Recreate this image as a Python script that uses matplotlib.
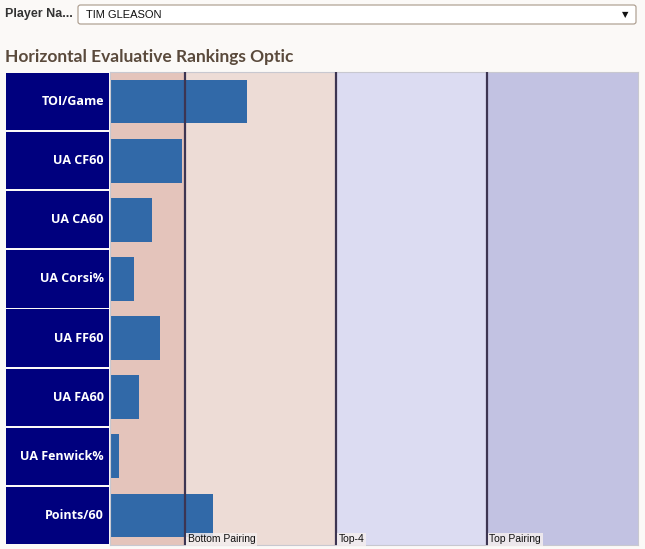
import matplotlib
matplotlib.use("Agg")
import matplotlib.pyplot as plt
from matplotlib.patches import FancyBboxPatch

metrics = ["TOI/Game", "UA CF60", "UA CA60", "UA Corsi%", "UA FF60", "UA FA60", "UA Fenwick%", "Points/60"]
values = [0.91, 0.48, 0.28, 0.16, 0.33, 0.19, 0.06, 0.68]
band_edges = [0, 0.5, 1.5, 2.5, 3.5]
band_colors = ["#e4c4bb", "#eddcd6", "#dcdcf2", "#c2c2e2"]
band_labels = ["Bottom Pairing", "Top-4", "Top Pairing"]
player = "TIM GLEASON"
title = "Horizontal Evaluative Rankings Optic"

W, H = 645, 549
fig = plt.figure(figsize=(W / 100, H / 100), dpi=100)
fig.patch.set_facecolor("#fbf9f7")

def fx(px):
    return px / W

def fy(py):
    return 1 - py / H

# header
fig.text(fx(5), fy(14), "Player Na...", fontsize=9, fontweight="bold", color="#333333",
         family="Liberation Sans", va="center", ha="left")
box = FancyBboxPatch((fx(78), fy(24)), fx(636) - fx(78), fy(5) - fy(24),
                     boxstyle="round,pad=0,rounding_size=0.004", transform=fig.transFigure,
                     facecolor="white", edgecolor="#a89888", linewidth=0.8)
fig.patches.append(box)
fig.text(fx(86), fy(14.5), player, fontsize=8, color="#111111", family="Liberation Sans",
         va="center", ha="left")
fig.text(fx(625), fy(14.5), "\u25BC", fontsize=6, color="#111111", family="DejaVu Sans",
         va="center", ha="center")
fig.text(fx(5), fy(57), title, fontsize=12.5, fontweight="bold", color="#5a4a3c",
         family="Lato", va="center", ha="left")

n = len(metrics)
top, bottom = 72, 545
ax = fig.add_axes([fx(110), fy(bottom), fx(638) - fx(110), fy(top) - fy(bottom)])
lax = fig.add_axes([fx(6), fy(bottom), fx(109) - fx(6), fy(top) - fy(bottom)])

ys = list(range(n))
for i in range(len(band_colors)):
    ax.axvspan(band_edges[i], band_edges[i + 1], color=band_colors[i], lw=0, zorder=0)
for e in band_edges[1:-1]:
    ax.axvline(e, color="#3d3552", lw=1.6, zorder=3)
ax.barh(ys, values, height=0.74, color="#3169a8", zorder=2)
for i, lab in enumerate(band_labels):
    ax.text(band_edges[i + 1] + 0.015, n - 0.5 - 0.01, lab, fontsize=7.5, color="#111111",
            family="Liberation Sans", va="bottom", ha="left", zorder=4,
            bbox=dict(boxstyle="square,pad=0.15", facecolor="#f4eeee", edgecolor="none", alpha=0.85))
ax.set_xlim(band_edges[0], band_edges[-1])
ax.set_ylim(n - 0.5, -0.5)
ax.set_xticks([])
ax.set_yticks([])
for s in ax.spines.values():
    s.set_color("#c8c8d0")
    s.set_linewidth(0.8)

lax.barh(ys, [1] * n, height=0.97, color="#00007e", left=0)
for y, m in zip(ys, metrics):
    lax.text(0.95, y, m, color="white", fontsize=9, fontweight="bold", family="Open Sans",
             ha="right", va="center")
lax.set_xlim(0, 1)
lax.set_ylim(n - 0.5, -0.5)
lax.axis("off")

fig.savefig("out.png", dpi=100, facecolor=fig.get_facecolor())
